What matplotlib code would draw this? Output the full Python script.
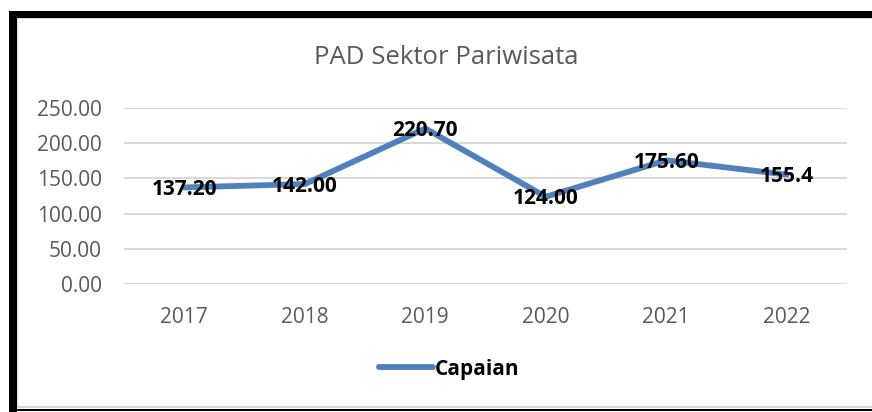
import matplotlib.pyplot as plt
from matplotlib.patches import Rectangle

years = ['2017', '2018', '2019', '2020', '2021', '2022']
capaian = [137.20, 142.00, 220.70, 124.00, 175.60, 155.4]
labels = ['137.20', '142.00', '220.70', '124.00', '175.60', '155.4']
yticks = [0, 50, 100, 150, 200, 250]

plt.rcParams['font.family'] = ['Open Sans', 'DejaVu Sans']

W, H = 872, 412
fig = plt.figure(figsize=(W / 100, H / 100), dpi=100)

# frame around the chart (black thick left/top, thin bottom)
def px_rect(x0, y0, x1, y1, color):
    fig.add_artist(Rectangle((x0 / W, 1 - y1 / H), (x1 - x0) / W, (y1 - y0) / H,
                             transform=fig.transFigure, facecolor=color,
                             edgecolor='none', zorder=0))

px_rect(9, 11, 872, 18, 'black')
px_rect(9, 11, 16.5, 412, 'black')
px_rect(9, 409, 872, 411, 'black')
px_rect(16.5, 18, 872, 19, '#d9d9d9')
px_rect(16.5, 406, 872, 407.5, '#d9d9d9')
px_rect(16.5, 18, 17.5, 407, '#d9d9d9')

ax = fig.add_axes([124 / W, 1 - 284.3 / H, 723 / W, 176.5 / H])
x = list(range(len(years)))
ax.plot(x, capaian, color='#4F81BD', lw=4.2, solid_capstyle='round',
        solid_joinstyle='round', label='Capaian', zorder=3)

for xi, v, t in zip(x, capaian, labels):
    ax.annotate(t, (xi, v), xytext=(0, -1.5), textcoords='offset points',
                ha='center', va='center', fontsize=15,
                fontweight='bold', color='black', zorder=4)

ax.set_xlim(-0.5, 5.5)
ax.set_ylim(0, 250)
ax.set_yticks(yticks)
ax.set_yticklabels(['%.2f' % v for v in yticks])
ax.set_xticks(x)
ax.set_xticklabels(years)
ax.tick_params(axis='both', length=0, labelsize=15, labelcolor='#595959')
ax.tick_params(axis='y', pad=16)
ax.tick_params(axis='x', pad=16.5)
ax.grid(axis='y', color='#d9d9d9', lw=1.5)
ax.set_axisbelow(True)
for s in ax.spines.values():
    s.set_visible(False)

fig.text(446 / W, 1 - 58 / H, 'PAD Sektor Pariwisata', ha='center', va='center',
         fontsize=18.5, color='#595959')

fig.legend(loc='center', bbox_to_anchor=(449 / W, 1 - 369 / H), frameon=False,
           handlelength=2.6, handletextpad=0.1,
           prop={'size': 15, 'weight': 'bold'})

fig.savefig('out.png', dpi=100)
